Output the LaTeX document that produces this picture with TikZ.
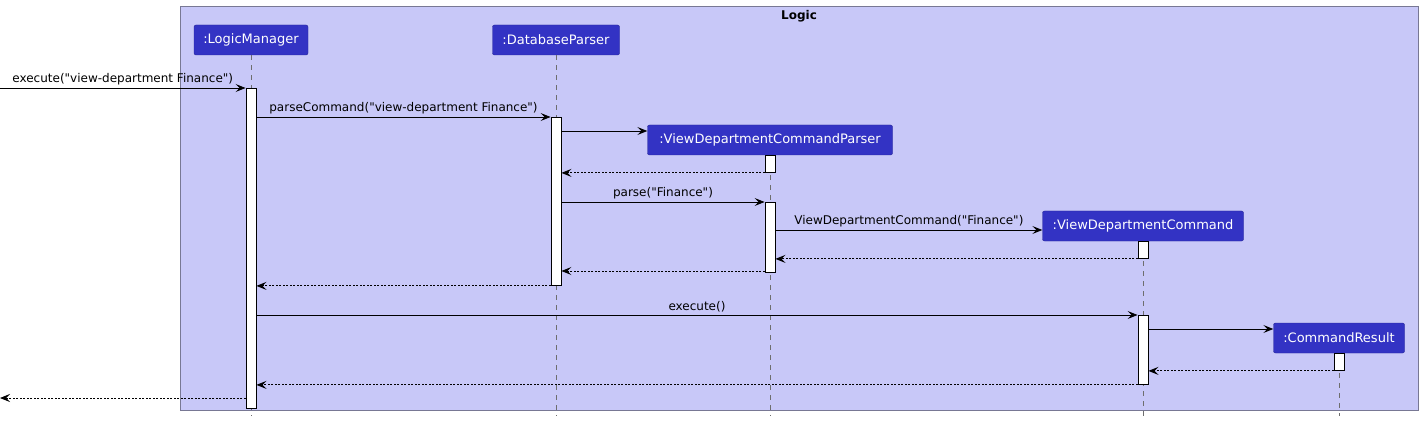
\documentclass[tikz,border=0pt]{standalone}
\usepackage{fontspec}
\setmainfont{DejaVu Sans}[Ligatures=TeXOff]
\usetikzlibrary{positioning}
\usetikzlibrary{arrows.meta}

\definecolor{logicbg}{RGB}{200,200,248}
\definecolor{logicline}{RGB}{120,120,148}
\definecolor{partfill}{RGB}{51,51,196}
\definecolor{partline}{RGB}{36,36,150}
\definecolor{lifegray}{RGB}{110,110,110}

\tikzset{
  part/.style={draw=partline, fill=partfill, text=white, rounded corners=2pt, minimum height=30pt, inner xsep=0pt, font=\fontsize{13}{15}\selectfont},
  act/.style={draw=black, fill=white, line width=0.9pt, minimum width=10pt, inner sep=0pt, anchor=north},
  life/.style={draw=lifegray, dash pattern=on 5pt off 5pt, line width=0.7pt},
  msg/.style={-{Stealth[length=10pt,width=8pt,inset=4pt]}, line width=0.9pt},
  ret/.style={msg, dash pattern=on 2pt off 1.5pt},
  lbl/.style={midway, above, inner sep=2.5pt, font=\fontsize{12}{14}\selectfont},
}

\begin{document}
\begin{tikzpicture}[x=1pt, y=-1pt]
\useasboundingbox (0,0) rectangle (1424,422);
\draw[draw=logicline, fill=logicbg, line width=0.9pt] (180,6) rectangle (1418,410);
\node[font=\bfseries\fontsize{12}{14}\selectfont] (title) at (799,16) {Logic};

\node[part, minimum width=114pt] (lm) at (251,40) {:LogicManager};
\node[part, minimum width=127pt] (dp) at (556,40) {:DatabaseParser};
\node[part, minimum width=245pt] (vdcp) at (770,140) {:ViewDepartmentCommandParser};
\node[part, minimum width=201pt] (vdc) at (1143,226) {:ViewDepartmentCommand};
\node[part, minimum width=131pt] (cr) at (1339,338) {:CommandResult};

\coordinate (bot) at (0,416);
\draw[life] (lm.south) -- (lm.south |- bot);
\draw[life] (dp.south) -- (dp.south |- bot);
\draw[life] (vdcp.south) -- (vdcp.south |- bot);
\draw[life] (vdc.south) -- (vdc.south |- bot);
\draw[life] (cr.south) -- (cr.south |- bot);

\node[act, minimum height=320pt] (lmA) at (251,88) {};
\node[act, minimum height=168pt] (dpA) at (556,117) {};
\node[act, minimum height=17pt] (vdcpA1) at (770,155) {};
\node[act, minimum height=70pt] (vdcpA2) at (770,202) {};
\node[act, minimum height=17pt] (vdcA1) at (1143,241) {};
\node[act, minimum height=69pt] (vdcA2) at (1143,315) {};
\node[act, minimum height=17pt] (crA) at (1339,353) {};

% message rows
\coordinate (in) at (0,88);
\coordinate (m3) at (0,131);
\coordinate (m6) at (0,230);
\coordinate (m8) at (0,271);
\coordinate (m11) at (0,329);
\coordinate (out) at (0,398);

\draw[msg] (in) -- (lmA.north west) node[lbl] {execute("view-department Finance")};
\draw[msg] (lmA.east |- dpA.north) -- (dpA.north west) node[lbl] {parseCommand("view-department Finance")};
\draw[msg] (dpA.east |- m3) -- (vdcp.west |- m3);
\draw[ret] (vdcpA1.south west) -- (dpA.east |- vdcpA1.south);
\draw[msg] (dpA.east |- vdcpA2.north) -- (vdcpA2.north west) node[lbl] {parse("Finance")};
\draw[msg] (vdcpA2.east |- m6) -- (vdc.west |- m6) node[lbl] {ViewDepartmentCommand("Finance")};
\draw[ret] (vdcA1.south west) -- (vdcpA2.east |- vdcA1.south);
\draw[ret] (vdcpA2.west |- m8) -- (dpA.east |- m8);
\draw[ret] (dpA.south west) -- (lmA.east |- dpA.south);
\draw[msg] (lmA.east |- vdcA2.north) -- (vdcA2.north west) node[lbl] {execute()};
\draw[msg] (vdcA2.east |- m11) -- (cr.west |- m11);
\draw[ret] (crA.south west) -- (vdcA2.east |- crA.south);
\draw[ret] (vdcA2.south west) -- (lmA.east |- vdcA2.south);
\draw[ret] (lmA.west |- out) -- (out);
\end{tikzpicture}
\end{document}
